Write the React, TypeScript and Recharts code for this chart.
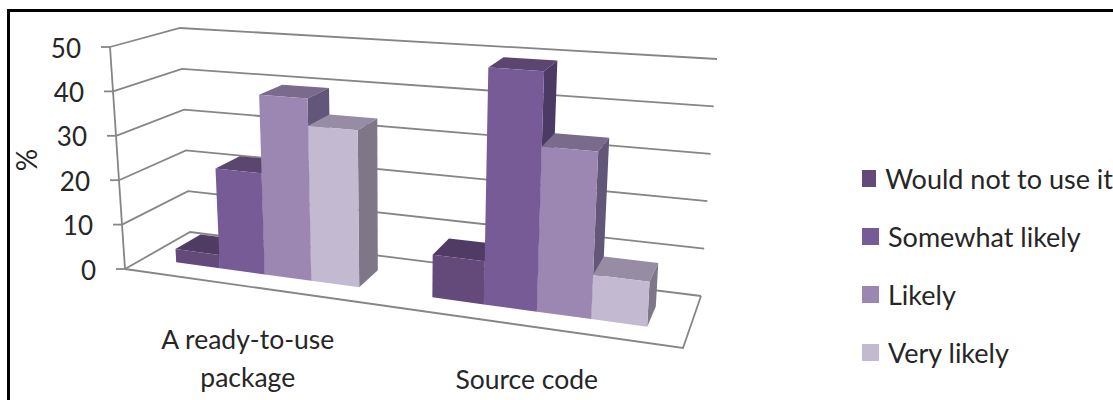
import { BarChart, Bar, XAxis, YAxis, CartesianGrid, Legend } from "recharts";

const categories = ["A ready-to-use\npackage", "Source code"];
const wouldNotUse = [3, 9];
const somewhatLikely = [22.5, 49.5];
const likely = [40, 34];
const veryLikely = [34, 9];
const valueTicks = [0, 10, 20, 30, 40, 50];

const seriesNames = ["Would not to use it", "Somewhat likely", "Likely", "Very likely"];
const frontColors = ["#634a7a", "#775b96", "#9c87b3", "#c3b9d1"];
const topColors = ["#4f3b63", "#5b4670", "#7a6a8c", "#968ca3"];
const sideColors = ["#4a3860", "#4b3a63", "#625778", "#7f7788"];

const data = categories.map((name, i) => ({
  name,
  s0: wouldNotUse[i],
  s1: somewhatLikely[i],
  s2: likely[i],
  s3: veryLikely[i],
}));

// flat plot rectangle that Recharts lays out; it becomes the front wall of the box
const PLOT = { left: 125, top: 47, width: 558, height: 222 };
const FONT = "Lato, sans-serif";
const GRID = "#868686";

// screen corners of the 3D box: [front/back][left/right][floor/top]
const FL0 = [125, 269];
const FL1 = [110, 47];
const FR0 = [683, 348];
const FR1 = [698, 88];
const BL0 = [190, 232];
const BL1 = [180, 28];
const BR0 = [701, 296];
const BR1 = [717, 59];

const lerp = (a: number, b: number, k: number) => a + (b - a) * k;

// t along the categories, h up the value axis, d into the depth (all 0..1)
const project = (t: number, h: number, d: number) => {
  const u = t - 0.16 * t * (1 - t); // perspective squeeze
  return [0, 1].map((c) => {
    const front = lerp(lerp(FL0[c], FR0[c], u), lerp(FL1[c], FR1[c], u), h);
    const back = lerp(lerp(BL0[c], BR0[c], u), lerp(BL1[c], BR1[c], u), h);
    return lerp(front, back, d);
  });
};

const toT = (x: number) => (x - PLOT.left) / PLOT.width;
const toH = (y: number) => (PLOT.top + PLOT.height - y) / PLOT.height;
const pts = (list: number[][]) => list.map((p) => p.join(",")).join(" ");

const BAR_FRONT = 0.3;
const BAR_BACK = 0.7;

const makeBox = (index: number) => (props: any) => {
  const { x, y, width, height } = props;
  const t0 = toT(x);
  const t1 = toT(x + width);
  const h1 = toH(y);
  const h0 = toH(y + height);
  const front = [project(t0, h0, BAR_FRONT), project(t1, h0, BAR_FRONT), project(t1, h1, BAR_FRONT), project(t0, h1, BAR_FRONT)];
  const top = [project(t0, h1, BAR_FRONT), project(t1, h1, BAR_FRONT), project(t1, h1, BAR_BACK), project(t0, h1, BAR_BACK)];
  const side = [project(t1, h0, BAR_FRONT), project(t1, h0, BAR_BACK), project(t1, h1, BAR_BACK), project(t1, h1, BAR_FRONT)];
  return (
    <g>
      <polygon points={pts(top)} fill={topColors[index]} />
      <polygon points={pts(side)} fill={sideColors[index]} />
      <polygon points={pts(front)} fill={frontColors[index]} />
    </g>
  );
};

// each horizontal grid line folds along the left side wall and the back wall
const GridFold = (props: any) => {
  const h = toH(props.y1);
  const isFloor = h < 0.001;
  const line = [project(0, h, 0), project(0, h, 1), project(1, h, 1)];
  return (
    <g key={props.key} fill="none" stroke={GRID} strokeWidth={1.8}>
      <polyline points={pts(line)} />
      {isFloor && <polyline points={pts([project(0, 0, 0), project(1, 0, 0), project(1, 0, 1)])} />}
      {isFloor && <polyline points={pts([project(0, 0, 0), project(0, 1, 0)])} />}
    </g>
  );
};

const ValueTick = (props: any) => {
  const [px, py] = project(0, toH(props.y), 0);
  return (
    <g>
      <line x1={px - 9} y1={py} x2={px} y2={py} stroke={GRID} strokeWidth={1.8} />
      <text x={px - 29} y={py + 4} textAnchor="end" dominantBaseline="middle" fontFamily={FONT} fontSize={26} fill="#262626">
        {props.payload.value}
      </text>
    </g>
  );
};

const CategoryTick = (props: any) => {
  const [px, py] = project(toT(props.x), 0, 0);
  const lines = String(props.payload.value).split("\n");
  return (
    <text textAnchor="middle" fontFamily={FONT} fontSize={26.5} fill="#262626">
      {lines.map((line, i) => (
        <tspan key={line} x={px} y={py + 63 + i * 38}>
          {line}
        </tspan>
      ))}
    </text>
  );
};

const PercentLabel = () => (
  <text x={37} y={160} transform="rotate(-90 37 160)" textAnchor="middle" fontFamily={FONT} fontSize={28} fill="#262626">
    %
  </text>
);

const LegendList = ({ payload }: any) => (
  <div style={{ fontFamily: FONT, fontSize: 27, color: "#262626" }}>
    {(payload || []).map((item: any) => (
      <div key={item.value} style={{ display: "flex", alignItems: "center", height: 58 }}>
        <span style={{ width: 17, height: 17, background: item.color, marginRight: 9 }} />
        <span style={{ whiteSpace: "nowrap" }}>{item.value}</span>
      </div>
    ))}
  </div>
);

export default function App() {
  return (
    <div style={{ position: "absolute", left: 0, top: 0, width: 1113, height: 400, background: "#fff", overflow: "hidden" }}>
      <div style={{ position: "absolute", left: 7, top: 9, width: 1106, height: 391, borderTop: "3px solid #000", borderLeft: "3px solid #000" }} />
      <BarChart
        width={1113}
        height={400}
        data={data}
        margin={{ top: 47, right: 430, bottom: 60, left: 65 }}
        barCategoryGap="13.7%"
        barGap={0}
      >
        <CartesianGrid vertical={false} horizontal={GridFold} />
        <XAxis dataKey="name" height={71} axisLine={false} tickLine={false} interval={0} tick={CategoryTick} />
        <YAxis
          width={60}
          domain={[0, 50]}
          ticks={valueTicks}
          axisLine={false}
          tickLine={false}
          tick={ValueTick}
          label={{ content: PercentLabel }}
        />
        <Legend
          layout="vertical"
          align="center"
          verticalAlign="middle"
          itemSorter={null}
          wrapperStyle={{ left: 862, top: 149, width: 251, height: 232 }}
          content={LegendList}
        />
        {seriesNames.map((name, i) => (
          <Bar
            key={name}
            dataKey={`s${i}`}
            name={name}
            fill={frontColors[i]}
            isAnimationActive={false}
            shape={makeBox(i)}
          />
        ))}
      </BarChart>
    </div>
  );
}
